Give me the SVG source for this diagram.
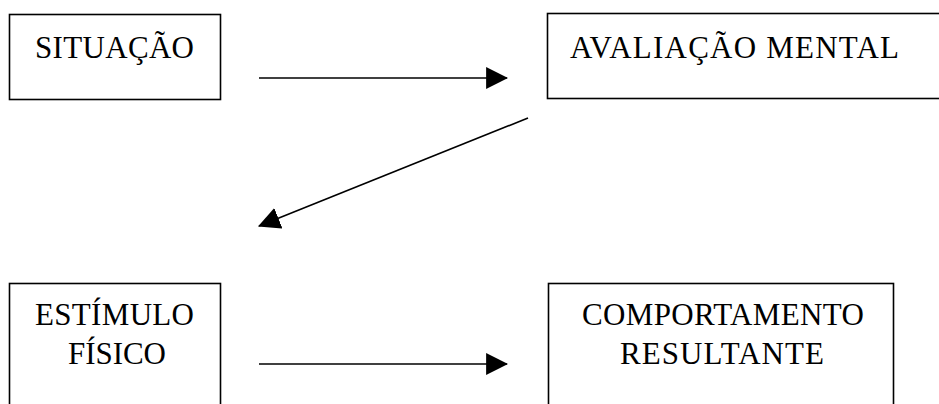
<svg xmlns="http://www.w3.org/2000/svg" width="939" height="404" viewBox="0 0 939 404">
  <style>
    .box { fill: #ffffff; stroke: #000000; stroke-width: 1.6; }
    .lbl { font-family: "Liberation Serif", "Times New Roman", serif; font-size: 31px; fill: #000000; }
    .conn { stroke: #000000; stroke-width: 1.6; fill: none; }
  </style>
  <defs>
    <marker id="head" markerUnits="userSpaceOnUse" markerWidth="22" markerHeight="22" viewBox="0 0 20 20" refX="19" refY="10" orient="auto">
      <path d="M0,0 L20,10 L0,20 Z" fill="#000000"/>
    </marker>
  </defs>
  <rect width="939" height="404" fill="#ffffff"/>

  <g id="situacao">
    <rect class="box" x="9.5" y="14.5" width="211" height="85"/>
    <text class="lbl" x="35" y="58" textLength="159" lengthAdjust="spacing">SITUAÇÃO</text>
  </g>

  <g id="avaliacao-mental">
    <rect class="box" x="547.5" y="13.5" width="420" height="85"/>
    <text class="lbl" x="570" y="58" textLength="329" lengthAdjust="spacing">AVALIAÇÃO MENTAL</text>
  </g>

  <g id="estimulo-fisico">
    <rect class="box" x="9.5" y="283.5" width="211" height="140"/>
    <text class="lbl" x="35" y="325" textLength="159" lengthAdjust="spacing">ESTÍMULO</text>
    <text class="lbl" x="68" y="364" textLength="98" lengthAdjust="spacing">FÍSICO</text>
  </g>

  <g id="comportamento-resultante">
    <rect class="box" x="548.5" y="283.5" width="345" height="140"/>
    <text class="lbl" x="582" y="325" textLength="282" lengthAdjust="spacing">COMPORTAMENTO</text>
    <text class="lbl" x="620" y="364" textLength="204" lengthAdjust="spacing">RESULTANTE</text>
  </g>

  <g id="connectors">
    <line class="conn" x1="259" y1="78" x2="507" y2="78" marker-end="url(#head)"/>
    <line class="conn" x1="528" y1="118" x2="259" y2="226" marker-end="url(#head)"/>
    <line class="conn" x1="259" y1="364" x2="507" y2="364" marker-end="url(#head)"/>
  </g>
</svg>
